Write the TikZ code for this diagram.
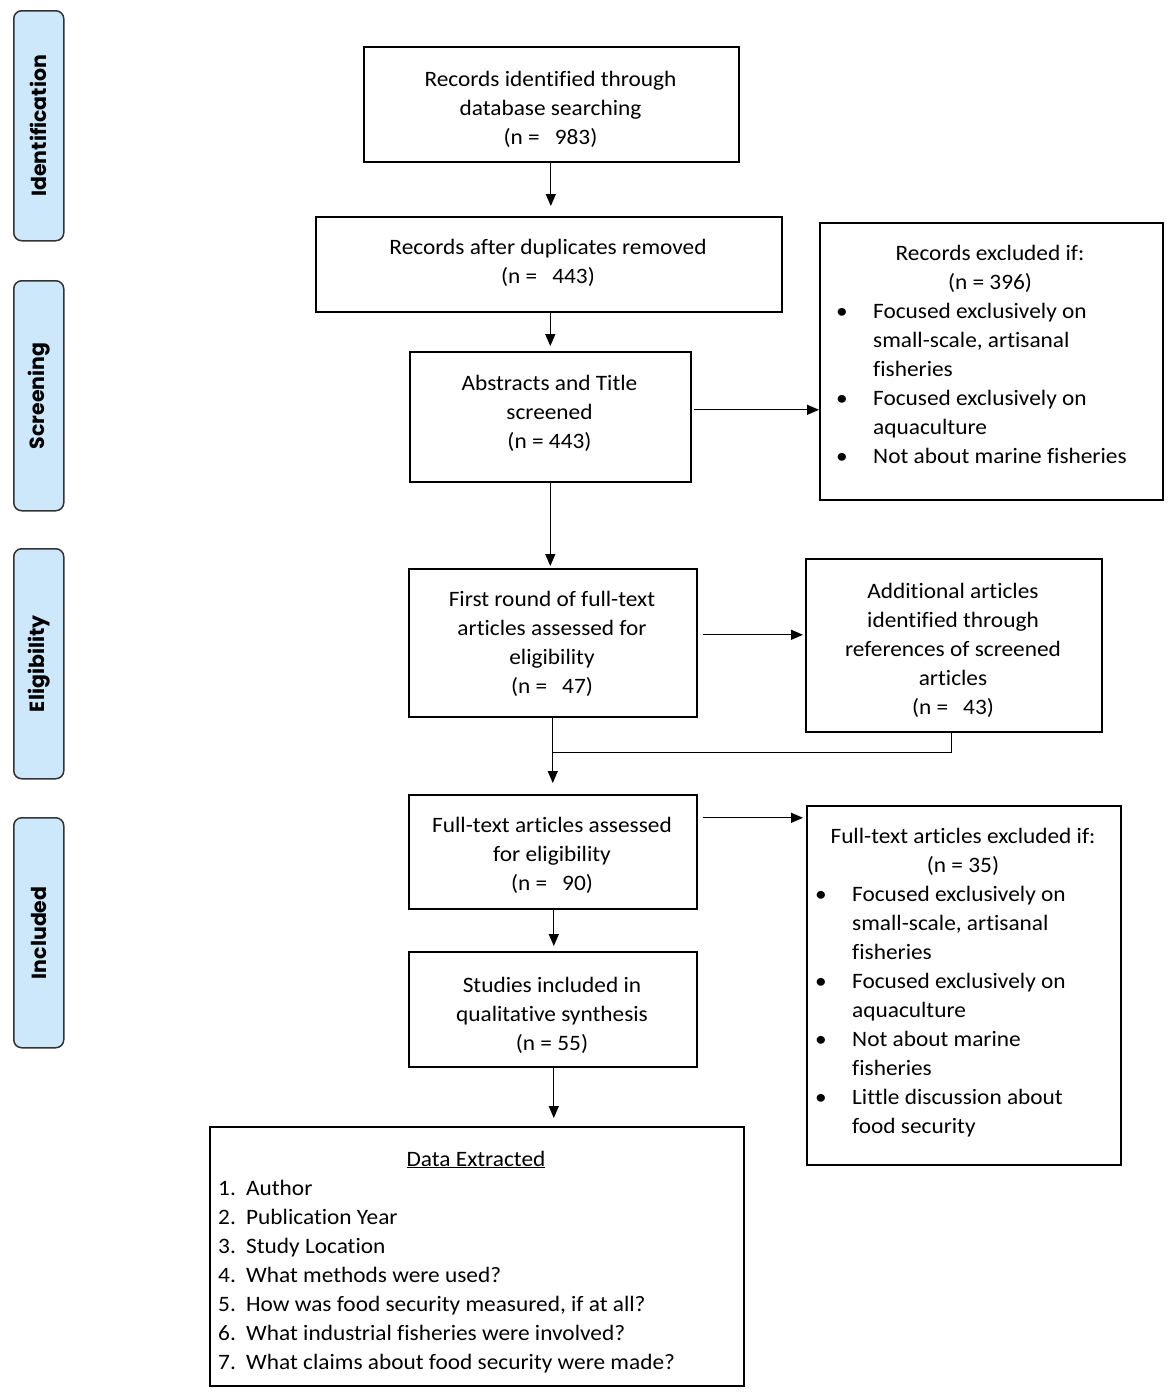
\documentclass[tikz,border=0pt]{standalone}
\usepackage{fontspec}
\setmainfont{Carlito}[FakeStretch=1.06, Ligatures=NoCommon]
\newfontfamily\sidefont{Poppins}
\usetikzlibrary{arrows.meta}
\definecolor{sideblue}{RGB}{205,232,250}
\newcommand{\ctxt}[1]{\begin{tabular}[t]{@{}c@{}}#1\end{tabular}}
\newcommand{\gapn}{\hspace{15pt}}
\begin{document}
\begin{tikzpicture}[x=1pt,y=-1pt,
  box/.style={draw=black, line width=1.6pt, inner sep=0pt, anchor=north west},
  txt/.style={font=\fontsize{22}{29}\selectfont, inner sep=0pt, anchor=base},
  lst/.style={font=\fontsize{22}{29}\selectfont, inner sep=0pt, anchor=base west},
  side/.style={draw=black!80, fill=sideblue, rounded corners=8pt, line width=1.5pt, minimum width=50pt, minimum height=230pt, inner sep=0pt, anchor=north west},
  sidelab/.style={font=\sidefont\bfseries\fontsize{20.5}{24}\selectfont, rotate=90, inner sep=0pt},
  conn/.style={line width=1.3pt},
  arr/.style={-{Triangle[length=12pt,width=10pt]}, line width=1.3pt}]
\path[use as bounding box] (0,0) rectangle (1170,1393);

% side labels
\node[side] (s1) at (13,10) {};
\node[sidelab] (s1t) at (s1.center) {Identification};
\node[side] (s2) at (13,280) {};
\node[sidelab] (s2t) at (s2.center) {Screening};
\node[side] (s3) at (13,548) {};
\node[sidelab] (s3t) at (s3.center) {Eligibility};
\node[side] (s4) at (13,817) {};
\node[sidelab] (s4t) at (s4.center) {Included};

% boxes
\node[box, minimum width=375pt, minimum height=115pt] (b1) at (363,46) {};
\node[txt] (b1t) at (550.5,86) {\ctxt{Records identified through\\database searching\\(n =\gapn 983)}};

\node[box, minimum width=466pt, minimum height=95pt] (b2) at (315,216) {};
\node[txt] (b2t) at (548,254) {\ctxt{Records after duplicates removed\\(n =\gapn 443)}};

\node[box, minimum width=281pt, minimum height=130pt] (b3) at (409,351) {};
\node[txt] (b3t) at (549.5,390) {\ctxt{Abstracts and Title\\screened\\(n = 443)}};

\node[box, minimum width=343pt, minimum height=277pt] (ex1) at (819,222) {};
\node[txt] (ex1t) at (990,260) {\ctxt{Records excluded if:\\(n = 396)}};
\node[lst] (ex1l) at (836,318) {\begin{tabular}[t]{@{}p{37pt}@{}l@{}}
\textbullet & Focused exclusively on\\
 & small-scale, artisanal\\
 & fisheries\\
\textbullet & Focused exclusively on\\
 & aquaculture\\
\textbullet & Not about marine fisheries
\end{tabular}};

\node[box, minimum width=288pt, minimum height=148pt] (b4) at (408,568) {};
\node[txt] (b4t) at (552,606) {\ctxt{First round of full-text\\articles assessed for\\eligibility\\(n =\gapn 47)}};

\node[box, minimum width=296pt, minimum height=173pt] (add) at (805,558) {};
\node[txt] (addt) at (953,598) {\ctxt{Additional articles\\identified through\\references of screened\\articles\\(n =\gapn 43)}};

\node[box, minimum width=288pt, minimum height=114pt] (b5) at (408,794) {};
\node[txt] (b5t) at (552,832) {\ctxt{Full-text articles assessed\\for eligibility\\(n =\gapn 90)}};

\node[box, minimum width=314pt, minimum height=359pt] (ex2) at (806,805) {};
\node[txt] (ex2t) at (963,843) {\ctxt{Full-text articles excluded if:\\(n = 35)}};
\node[lst] (ex2l) at (815,901) {\begin{tabular}[t]{@{}p{37pt}@{}l@{}}
\textbullet & Focused exclusively on\\
 & small-scale, artisanal\\
 & fisheries\\
\textbullet & Focused exclusively on\\
 & aquaculture\\
\textbullet & Not about marine\\
 & fisheries\\
\textbullet & Little discussion about\\
 & food security
\end{tabular}};

\node[box, minimum width=288pt, minimum height=115pt] (b6) at (408,951) {};
\node[txt] (b6t) at (552,992) {\ctxt{Studies included in\\qualitative synthesis\\(n = 55)}};

\node[box, minimum width=534pt, minimum height=259pt] (dat) at (209,1126) {};
\node[txt] (datt) at (476,1166) {\underline{Data Extracted}};
\node[lst] (datl) at (218,1195) {\begin{tabular}[t]{@{}p{28pt}@{}l@{}}
1. & Author\\
2. & Publication Year\\
3. & Study Location\\
4. & What methods were used?\\
5. & How was food security measured, if at all?\\
6. & What industrial fisheries were involved?\\
7. & What claims about food security were made?
\end{tabular}};

% connectors
\draw[arr, shorten >=10pt] ([xshift=-0.5pt]b1.south) -- ([xshift=-0.5pt]b1.south |- b2.north);
\draw[arr, shorten >=5pt] (b3.north |- b2.south) -- (b3.north);
\draw[arr, shorten >=2pt] (b3.south) -- (b3.south |- b4.north);
\coordinate (p1) at ([xshift=2pt,yshift=7pt]b3.east);
\draw[arr] (p1) -- (p1 -| ex1.west);
\coordinate (p2) at ([xshift=5pt,yshift=8pt]b4.east);
\draw[arr, shorten >=2pt] (p2) -- (p2 -| add.west);
\path (b4.south) ++(0,35) coordinate (j);
\draw[conn] (b4.south) -- (j);
\draw[conn] ([xshift=-2pt]add.south) -- ([xshift=-2pt]add.south |- j) -- (j);
\draw[arr, shorten >=11pt] (j) -- (j |- b5.north);
\coordinate (p3) at ([xshift=5pt,yshift=34pt]b5.east);
\draw[arr, shorten >=3pt] (p3) -- (p3 -| ex2.west);
\draw[arr, shorten >=5pt] ([xshift=1pt]b5.south) -- ([xshift=1pt]b6.north);
\draw[arr, shorten >=8pt] ([xshift=1pt]b6.south) -- ([xshift=1pt]b6.south |- dat.north);
\end{tikzpicture}
\end{document}
